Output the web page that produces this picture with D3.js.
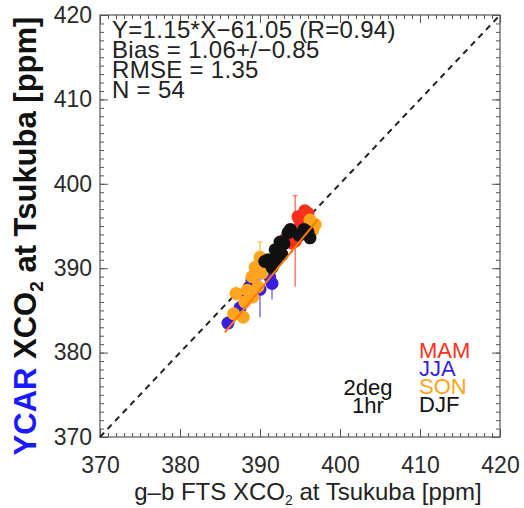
<!DOCTYPE html>
<html>
<head>
<meta charset="utf-8">
<script src="https://cdn.jsdelivr.net/npm/d3@7"></script>
<style>
  body { margin: 0; background: #fff; }
  svg text { font-family: "Liberation Sans", Arial, Helvetica, sans-serif; }
</style>
</head>
<body>
<svg id="chart" width="524" height="508"></svg>
<script>
// axis ticks
let majorTicks = [370, 380, 390, 400, 410, 420];
let minorTicks = d3.range(370, 421, 1);

// seasons, each one: [gb FTS, YCAR, error]
let seasons = ['MAM', 'JJA', 'SON', 'DJF'];
let seasonCol = ['#f8301c', '#3a1ee0', '#ffa41c', '#111111'];

let mam = [
  [394.4, 393.2, 5.4], [394.75, 396.1, 0.8], [396.0, 396.5, 0.6], [394.4, 394.2, 0.7],
  [394.0, 393.0, 1.2], [395.4, 394.9, 0.8], [395.0, 395.6, 0.5], [395.8, 395.9, 0.6],
  [393.8, 393.8, 0.6], [395.6, 396.8, 0.5], [393.2, 393.5, 0.8]
];
let jja = [
  [386.0, 383.5, 0.7], [387.5, 385.3, 0.8], [388.3, 386.5, 0.6], [389.0, 388.6, 0.9],
  [390.0, 387.5, 3.3], [391.5, 388.2, 1.9], [391.2, 389.0, 0.8], [388.8, 387.6, 0.7]
];
let son = [
  [387.0, 387.0, 0.9], [387.9, 384.2, 0.6], [388.1, 386.0, 0.7], [388.4, 387.4, 0.6],
  [389.1, 386.6, 0.8], [389.75, 387.8, 0.7], [390.25, 389.4, 0.7], [389.4, 390.1, 0.8],
  [390.0, 391.3, 1.8], [392.25, 391.9, 0.7], [396.6, 394.5, 0.8], [396.25, 395.7, 0.6],
  [396.9, 395.2, 0.6], [390.8, 390.5, 0.7], [389.0, 389.0, 0.6], [386.7, 384.6, 0.7]
];
let djf = [
  [396.25, 393.6, 0.6], [393.5, 394.2, 0.6], [392.5, 393.1, 0.6], [391.9, 392.2, 0.6],
  [392.75, 391.6, 0.6], [391.0, 391.0, 0.6], [391.5, 390.1, 0.6], [395.5, 394.6, 0.6],
  [394.9, 393.9, 0.6], [393.0, 392.9, 0.6], [390.6, 390.8, 0.6], [392.0, 390.9, 0.6],
  [393.8, 394.6, 0.6], [396.0, 394.3, 0.6]
];
let seasonData = [mam, jja, son, djf];

// regression line and stats
let fitSlope = 1.15, fitIntercept = -61.05, fitRange = [385.6, 397.2];
let statLines = ['Y=1.15*X\u221261.05 (R=0.94)', 'Bias = 1.06+/\u22120.85', 'RMSE = 1.35', 'N = 54'];

let svg = d3.select('#chart');

// plot box
let pLeft = 100, pRight = 500, pTop = 15, pBottom = 437;
let x = d3.scaleLinear().domain([370, 420]).range([pLeft, pRight]);
let y = d3.scaleLinear().domain([370, 420]).range([pBottom, pTop]);

let frameCol = '#555';

// minor ticks on all four sides
function tickAxis(axisFn, scale, vals, size, tx, ty) {
  let g = svg.append('g')
    .attr('transform', 'translate(' + tx + ',' + ty + ')')
    .call(axisFn(scale).tickValues(vals).tickSizeInner(size).tickSizeOuter(0).tickFormat(''));
  g.select('.domain').remove();
  g.selectAll('line').attr('stroke', frameCol).attr('stroke-width', 1);
  return g;
}
tickAxis(d3.axisBottom, x, minorTicks, -4, 0, pBottom);
tickAxis(d3.axisTop, x, minorTicks, -4, 0, pTop);
tickAxis(d3.axisLeft, y, minorTicks, -4, pLeft, 0);
tickAxis(d3.axisRight, y, minorTicks, -4, pRight, 0);
tickAxis(d3.axisTop, x, majorTicks, -8, 0, pTop);
tickAxis(d3.axisRight, y, majorTicks, -8, pRight, 0);

// labelled axes
let xAxis = svg.append('g')
  .attr('transform', 'translate(0,' + pBottom + ')')
  .call(d3.axisBottom(x).tickValues(majorTicks).tickSizeInner(-8).tickSizeOuter(0).tickPadding(20));
let yAxis = svg.append('g')
  .attr('transform', 'translate(' + pLeft + ',0)')
  .call(d3.axisLeft(y).tickValues(majorTicks).tickSizeInner(-8).tickSizeOuter(0).tickPadding(8));
[xAxis, yAxis].forEach(g => {
  g.select('.domain').remove();
  g.selectAll('line').attr('stroke', frameCol);
  g.selectAll('text').attr('font-size', 23).attr('fill', '#2a2a2a')
    .attr('font-family', '"Liberation Sans", Arial, sans-serif');
});

svg.append('rect')
  .attr('x', pLeft).attr('y', pTop)
  .attr('width', pRight - pLeft).attr('height', pBottom - pTop)
  .attr('fill', 'none').attr('stroke', frameCol).attr('stroke-width', 1.2);

// 1:1 line
svg.append('line')
  .attr('x1', x(370)).attr('y1', y(370))
  .attr('x2', x(420)).attr('y2', y(420))
  .attr('stroke', '#222').attr('stroke-width', 2)
  .attr('stroke-dasharray', '6,5');

// error bars then dots, season by season
seasonData.forEach((pts, si) => {
  let col = seasonCol[si];
  let g = svg.append('g');
  g.selectAll('line.err').data(pts).join('line')
    .attr('class', 'err')
    .attr('x1', d => x(d[0])).attr('x2', d => x(d[0]))
    .attr('y1', d => y(d[1] - d[2])).attr('y2', d => y(d[1] + d[2]))
    .attr('stroke', col).attr('stroke-opacity', 0.6).attr('stroke-width', 1.6);
  g.selectAll('line.cap').data(pts.filter(d => d[2] > 1)).join('line')
    .attr('class', 'cap')
    .attr('x1', d => x(d[0]) - 2.5).attr('x2', d => x(d[0]) + 2.5)
    .attr('y1', d => y(d[1] + d[2])).attr('y2', d => y(d[1] + d[2]))
    .attr('stroke', col).attr('stroke-opacity', 0.6).attr('stroke-width', 1.4);
  g.selectAll('circle').data(pts).join('circle')
    .attr('cx', d => x(d[0])).attr('cy', d => y(d[1]))
    .attr('r', 6.5)
    .attr('fill', col);
});

// regression line
svg.append('line')
  .attr('x1', x(fitRange[0])).attr('y1', y(fitSlope * fitRange[0] + fitIntercept))
  .attr('x2', x(fitRange[1])).attr('y2', y(fitSlope * fitRange[1] + fitIntercept))
  .attr('stroke', '#ff7a00').attr('stroke-width', 2);

// stats text, one block
let stats = svg.append('text')
  .attr('x', 112).attr('y', 38)
  .attr('font-size', 24).attr('letter-spacing', 0.3).attr('fill', '#222');
stats.selectAll('tspan').data(statLines).join('tspan')
  .attr('x', 112).attr('dy', (d, i) => i ? 20 : 0)
  .text(d => d);

// resolution text
svg.append('g').selectAll('text').data(['2deg', '1hr']).join('text')
  .attr('x', 368).attr('y', (d, i) => 395 + i * 18)
  .attr('text-anchor', 'middle')
  .attr('font-size', 22).attr('fill', '#111')
  .text(d => d);

// season legend
svg.append('g').selectAll('text').data(seasons).join('text')
  .attr('x', 419).attr('y', (d, i) => 358 + i * 18)
  .attr('font-size', 22)
  .attr('fill', (d, i) => seasonCol[i])
  .text(d => d);

// x title
let xt = svg.append('text')
  .attr('x', 308).attr('y', 500)
  .attr('text-anchor', 'middle')
  .attr('font-size', 24).attr('fill', '#222');
xt.append('tspan').text('g\u2013b FTS XCO');
xt.append('tspan').attr('font-size', 14).attr('dy', 5).text('2');
xt.append('tspan').attr('dy', -5).text(' at Tsukuba [ppm]');

// y title
let yt = svg.append('text')
  .attr('transform', 'translate(36,236) rotate(-90)')
  .attr('text-anchor', 'middle')
  .attr('font-size', 31).attr('font-weight', 'bold').attr('fill', '#111');
yt.append('tspan').attr('fill', '#1a1aff').text('YCAR');
yt.append('tspan').text(' XCO');
yt.append('tspan').attr('font-size', 19).attr('dy', 7).text('2');
yt.append('tspan').attr('dy', -7).text(' at Tsukuba [ppm]');
</script>
</body>
</html>
